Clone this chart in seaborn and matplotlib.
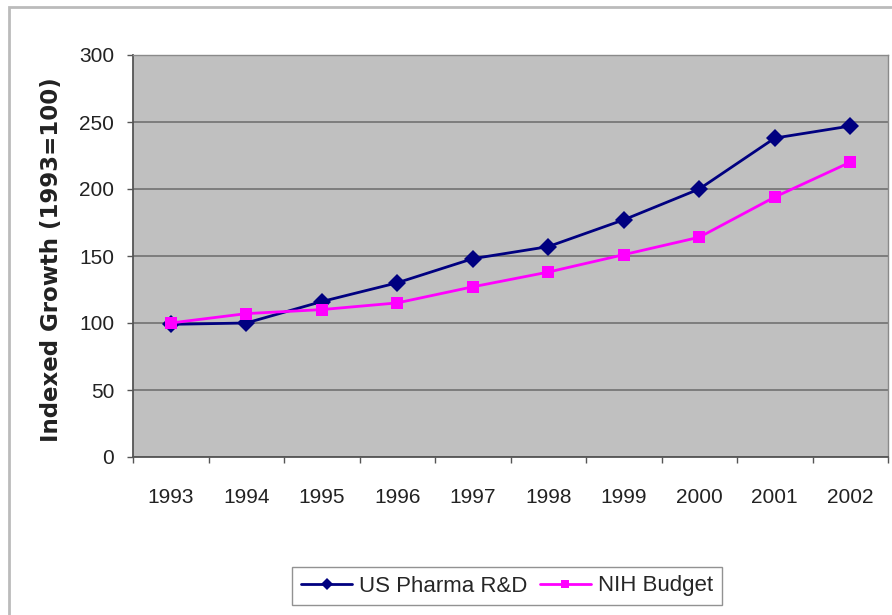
import matplotlib
matplotlib.use("Agg")
import matplotlib.pyplot as plt
import seaborn as sns
import pandas as pd
from matplotlib.patches import Rectangle
from matplotlib.lines import Line2D

years = ["1993", "1994", "1995", "1996", "1997", "1998", "1999", "2000", "2001", "2002"]
pharma = [99, 100, 116, 130, 148, 157, 177, 200, 238, 247]
nih = [100, 107, 110, 115, 127, 138, 151, 164, 194, 220]
series_names = ["US Pharma R&D", "NIH Budget"]

sns.set_theme(style="white")
plt.rcParams["font.family"] = ["Liberation Sans", "DejaVu Sans"]

rows = []
for i, y in enumerate(years):
    rows.append({"pos": i, "series": series_names[0], "value": pharma[i]})
    rows.append({"pos": i, "series": series_names[1], "value": nih[i]})
df = pd.DataFrame(rows)

fig = plt.figure(figsize=(8.92, 6.15), dpi=100)
ax = fig.add_axes([133/892, 1-457/615, (888-133)/892, (457-55)/615])
ax.set_facecolor("#C0C0C0")

palette = {series_names[0]: "#000080", series_names[1]: "#FF00FF"}
markers = {series_names[0]: "D", series_names[1]: "s"}
sns.lineplot(data=df, x="pos", y="value", hue="series", style="series",
             markers=markers, dashes=False, palette=palette, ax=ax,
             linewidth=2, markersize=9, markeredgewidth=0, legend=False)

ax.set_xlim(-0.5, 9.5)
ax.set_ylim(0, 300)
ax.set_yticks(range(0, 301, 50))
ax.yaxis.grid(True, color="#777777", linewidth=1.3)
ax.set_axisbelow(True)
ax.set_xticks([i - 0.5 for i in range(11)], minor=False)
ax.set_xticklabels([])
ax.set_xticks(list(range(10)), minor=True)
ax.set_xticklabels(years, minor=True)
ax.tick_params(axis="x", which="major", length=4.5, width=1, color="#555555", direction="out", bottom=True)
ax.tick_params(axis="x", which="minor", length=0, labelsize=15, pad=22, colors="#222222")
ax.tick_params(axis="y", length=4.5, width=1, color="#555555", direction="out", left=True,
               labelsize=15, pad=9, colors="#222222")
for s in ["left", "bottom"]:
    ax.spines[s].set_color("#555555")
    ax.spines[s].set_linewidth(1.3)
for s in ["top", "right"]:
    ax.spines[s].set_color("#8A8A8A")
    ax.spines[s].set_linewidth(1.0)
ax.set_xlabel("")
ax.set_ylabel("Indexed Growth (1993=100)", fontsize=16.5, fontweight="bold", color="#222222",
              family="DejaVu Sans", va="center")
ax.yaxis.set_label_coords((52-133)/755, 0.49)

handles = [Line2D([], [], color=palette[n], marker=markers[n], markersize=6, linewidth=2, markeredgewidth=0)
           for n in series_names]
leg = fig.legend(handles, series_names, loc="center", bbox_to_anchor=(507/892, 1-586/615), ncol=2,
                 frameon=True, fancybox=False, fontsize=16, handlelength=2.3, columnspacing=0.55,
                 handletextpad=0.3, borderpad=0.4, borderaxespad=0)
leg.get_frame().set_edgecolor("#777777")
leg.get_frame().set_linewidth(1.0)

fig.patches.append(Rectangle((9/892, -0.1), 1.2, 1 - 7/615 + 0.1, transform=fig.transFigure,
                             fill=False, edgecolor="#BBBBBB", linewidth=2))

fig.savefig("out.png", dpi=100)
